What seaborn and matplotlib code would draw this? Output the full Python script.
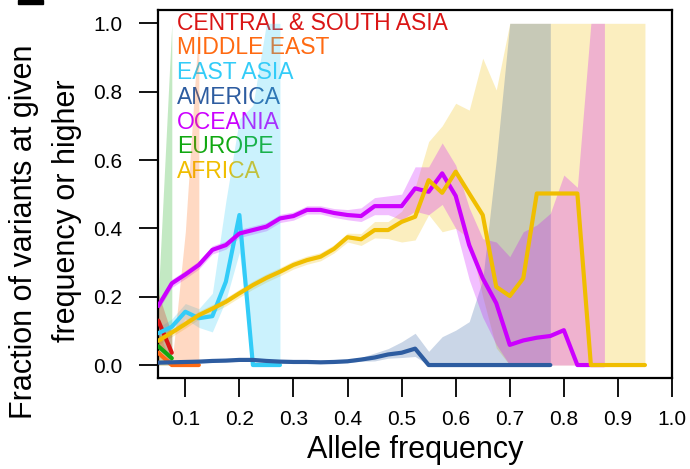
import matplotlib
matplotlib.use("Agg")
import matplotlib.pyplot as plt
from matplotlib.patches import Rectangle
import pandas as pd
import seaborn as sns

# Allele-frequency bins (left edge of each bin)
freq_bins = [0.05, 0.075, 0.1, 0.125, 0.15, 0.175, 0.2, 0.225, 0.25, 0.275,
             0.3, 0.325, 0.35, 0.375, 0.4, 0.425, 0.45, 0.475, 0.5, 0.525,
             0.55, 0.575, 0.6, 0.625, 0.65, 0.675, 0.7, 0.725, 0.75, 0.775,
             0.8, 0.825, 0.85, 0.875, 0.9, 0.925, 0.95]

regions = ["CENTRAL & SOUTH ASIA", "MIDDLE EAST", "EAST ASIA", "AMERICA",
           "OCEANIA", "EUROPE", "AFRICA"]
region_colors = ["#DA1515", "#FF6A12", "#33CCF8", "#2D5CA0",
                 "#CC00FF", "#11A811", "#F0BE00"]
# Stacking order of the shaded bands, bottom first
band_order = ["AFRICA", "EUROPE", "AMERICA", "OCEANIA", "EAST ASIA",
              "MIDDLE EAST", "CENTRAL & SOUTH ASIA"]

# Fraction of variants at given frequency or higher, with confidence band
csa_frac = [0.13, 0.036]
csa_lo = [0.06, 0.0]
csa_hi = [0.21, 0.09]

me_frac = [0.036, 0.0, 0.0, 0.0]
me_lo = [0.0, 0.0, 0.0, 0.0]
me_hi = [0.10, 0.0, 0.39, 1.0]

ea_frac = [0.093, 0.112, 0.156, 0.137, 0.143, 0.244, 0.439, 0.0, 0.0, 0.0]
ea_lo = [0.075, 0.09, 0.135, 0.11, 0.097, 0.19, 0.33, 0.0, 0.0, 0.0]
ea_hi = [0.11, 0.135, 0.18, 0.165, 0.21, 0.48, 0.72, 0.76, 1.0, 1.0]

am_frac = [0.007, 0.008, 0.009, 0.01, 0.012, 0.013, 0.015, 0.015, 0.012, 0.01,
           0.009, 0.009, 0.008, 0.009, 0.011, 0.016, 0.022, 0.031, 0.036, 0.048,
           0.0, 0.0, 0.0, 0.0, 0.0, 0.0, 0.0, 0.0, 0.0, 0.0]
am_lo = [0.003, 0.004, 0.005, 0.006, 0.008, 0.009, 0.011, 0.011, 0.008, 0.006,
         0.005, 0.005, 0.004, 0.005, 0.007, 0.011, 0.012, 0.02, 0.022, 0.025,
         0.0, 0.0, 0.0, 0.0, 0.0, 0.0, 0.0, 0.0, 0.0, 0.0]
am_hi = [0.011, 0.012, 0.013, 0.014, 0.016, 0.017, 0.019, 0.019, 0.016, 0.014,
         0.013, 0.013, 0.012, 0.013, 0.016, 0.022, 0.035, 0.048, 0.068, 0.093,
         0.04, 0.083, 0.102, 0.127, 0.25, 0.6, 1.0, 1.0, 1.0, 1.0]

oc_frac = [0.173, 0.239, 0.265, 0.293, 0.337, 0.351, 0.385, 0.395, 0.405, 0.429,
           0.436, 0.454, 0.454, 0.445, 0.439, 0.436, 0.465, 0.465, 0.465, 0.517,
           0.507, 0.561, 0.495, 0.351, 0.254, 0.181, 0.059, 0.072, 0.08, 0.085,
           0.102, 0.0, 0.0, 0.0]
oc_lo = [0.161, 0.227, 0.253, 0.281, 0.325, 0.339, 0.373, 0.383, 0.393, 0.417,
         0.424, 0.442, 0.442, 0.432, 0.425, 0.42, 0.44, 0.44, 0.425, 0.45,
         0.44, 0.47, 0.40, 0.25, 0.14, 0.06, 0.0, 0.0, 0.0, 0.0,
         0.0, 0.0, 0.0, 0.0]
oc_hi = [0.185, 0.251, 0.277, 0.305, 0.349, 0.363, 0.397, 0.407, 0.417, 0.441,
         0.448, 0.466, 0.466, 0.458, 0.455, 0.46, 0.49, 0.495, 0.50, 0.58,
         0.58, 0.65, 0.585, 0.46, 0.37, 0.36, 0.317, 0.39, 0.41, 0.444,
         0.556, 0.52, 1.0, 1.0]

eu_frac = [0.055, 0.02]
eu_lo = [0.0, 0.0]
eu_hi = [0.2, 1.0]

af_frac = [0.071, 0.095, 0.12, 0.146, 0.165, 0.185, 0.21, 0.234, 0.255, 0.273,
           0.293, 0.307, 0.317, 0.34, 0.374, 0.368, 0.395, 0.395, 0.419, 0.434,
           0.541, 0.504, 0.566, 0.502, 0.439, 0.229, 0.202, 0.254, 0.502, 0.502,
           0.502, 0.502, 0.0, 0.0, 0.0, 0.0, 0.0]
af_lo = [0.059, 0.083, 0.108, 0.134, 0.153, 0.173, 0.198, 0.222, 0.243, 0.261,
         0.281, 0.295, 0.305, 0.328, 0.36, 0.35, 0.372, 0.37, 0.36, 0.366,
         0.44, 0.39, 0.40, 0.37, 0.2, 0.05, 0.0, 0.0, 0.0, 0.0,
         0.0, 0.0, 0.0, 0.0, 0.0, 0.0, 0.0]
af_hi = [0.083, 0.107, 0.132, 0.158, 0.177, 0.197, 0.222, 0.246, 0.267, 0.285,
         0.305, 0.319, 0.329, 0.352, 0.386, 0.385, 0.42, 0.42, 0.45, 0.52,
         0.654, 0.70, 0.766, 0.746, 0.898, 0.805, 1.0, 1.0, 1.0, 1.0,
         1.0, 1.0, 1.0, 1.0, 1.0, 1.0, 1.0]

series = {
    "CENTRAL & SOUTH ASIA": (csa_frac, csa_lo, csa_hi),
    "MIDDLE EAST": (me_frac, me_lo, me_hi),
    "EAST ASIA": (ea_frac, ea_lo, ea_hi),
    "AMERICA": (am_frac, am_lo, am_hi),
    "OCEANIA": (oc_frac, oc_lo, oc_hi),
    "EUROPE": (eu_frac, eu_lo, eu_hi),
    "AFRICA": (af_frac, af_lo, af_hi),
}

rows = []
for name, (frac, lo, hi) in series.items():
    for f, v, l, h in zip(freq_bins, frac, lo, hi):
        rows.append({"region": name, "freq": f, "frac": v, "lo": l, "hi": h})
df = pd.DataFrame(rows)

sns.set_theme(style="white")
plt.rcParams["font.family"] = ["Liberation Sans", "DejaVu Sans"]
plt.rcParams["text.color"] = "black"

fig = plt.figure(figsize=(6.9, 4.69), dpi=100)
ax = fig.add_axes([0.2294, 0.1947, 0.7445, 0.784])

palette = dict(zip(regions, region_colors))

# Confidence bands
for name in band_order:
    sub = df[df.region == name]
    ax.fill_between(sub.freq, sub.lo, sub.hi, color=palette[name],
                    alpha=0.25, linewidth=0, zorder=2)

# Frequency curves
sns.lineplot(data=df, x="freq", y="frac", hue="region", hue_order=regions,
             palette=palette, estimator=None, sort=False, linewidth=3,
             legend=False, ax=ax, zorder=3)
for line in ax.lines:
    line.set_solid_joinstyle("round")
    line.set_solid_capstyle("round")

# Coloured region names in the upper-left corner
for i, (name, col) in enumerate(zip(regions, region_colors)):
    ax.text(0.0364, 0.9646 - i * 0.0674, name, color=col, fontsize=16.5,
            ha="left", va="center", transform=ax.transAxes, zorder=1)

ax.set_xlim(0.05, 1.0)
ax.set_ylim(-0.037, 1.039)
ax.set_xticks([0.1, 0.2, 0.3, 0.4, 0.5, 0.6, 0.7, 0.8, 0.9, 1.0])
ax.set_xticklabels(["0.1", "0.2", "0.3", "0.4", "0.5", "0.6", "0.7", "0.8",
                    "0.9", "1.0"])
ax.set_yticks([0.0, 0.2, 0.4, 0.6, 0.8, 1.0])
ax.set_yticklabels(["0.0", "0.2", "0.4", "0.6", "0.8", "1.0"])
ax.tick_params(axis="both", direction="out", length=14, width=1.3,
               colors="black", labelcolor="black", labelsize=15)
ax.tick_params(axis="x", pad=9, bottom=True)
ax.tick_params(axis="y", pad=12, left=True)
for sp in ax.spines.values():
    sp.set_visible(True)
    sp.set_color("black")
    sp.set_linewidth(1.6)
ax.set_xlabel("")
ax.set_ylabel("")

fig.text(415 / 690, 1 - 450 / 469, "Allele frequency", fontsize=22,
         color="black", ha="center", va="center")
fig.text(24 / 690, 1 - 232 / 469, "Fraction of variants at given",
         fontsize=22, color="black", rotation=90, ha="center", va="center")
fig.text(67 / 690, 1 - 211 / 469, "frequency or higher",
         fontsize=22, color="black", rotation=90, ha="center", va="center")

# Edge of the neighbouring panel label
fig.patches.append(Rectangle((18 / 690, 1 - 4 / 469), 25 / 690, 4 / 469,
                             transform=fig.transFigure, color="black"))

fig.savefig("out.png", dpi=100)
